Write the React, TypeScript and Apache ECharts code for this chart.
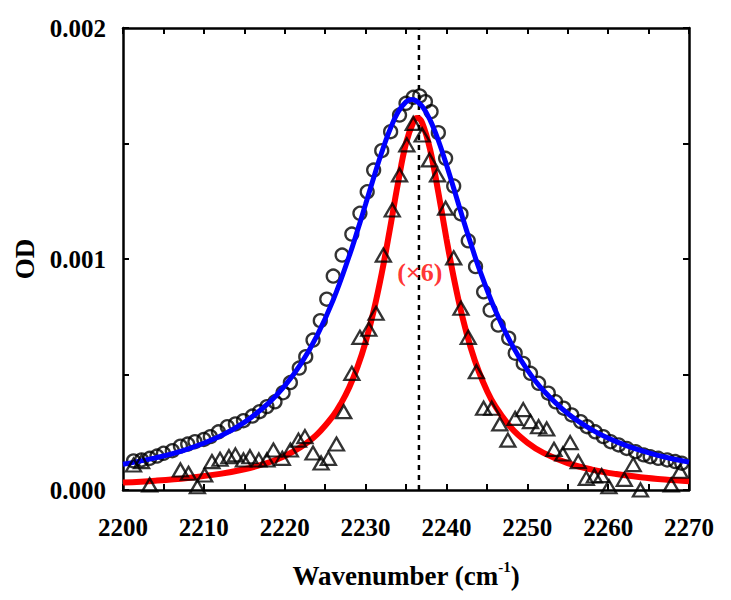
import React, { useEffect, useRef } from "react";
import * as echarts from "echarts";

// Measured data: circles (OD)
const circleX = [2201.3, 2202.3, 2203.3, 2204.2, 2205.0, 2206.1, 2207.1, 2208.0, 2208.9, 2210.0, 2210.8, 2211.8, 2212.9, 2213.9, 2214.9, 2216.0, 2216.9, 2217.8, 2218.8, 2219.8, 2220.7, 2221.8, 2222.6, 2223.5, 2224.4, 2225.2, 2226.0, 2227.1, 2228.3, 2229.3, 2230.2, 2231.0, 2232.0, 2233.1, 2234.2, 2235.0, 2235.9, 2236.7, 2237.4, 2238.1, 2239.0, 2239.9, 2240.9, 2241.8, 2242.7, 2243.6, 2244.6, 2245.4, 2246.4, 2247.7, 2248.5, 2249.5, 2250.4, 2251.4, 2252.6, 2253.5, 2254.5, 2255.5, 2256.6, 2257.4, 2258.4, 2259.4, 2260.3, 2261.3, 2262.3, 2263.4, 2264.4, 2265.2, 2266.2, 2267.3, 2268.3, 2269.1];
const circleY = [0.000126, 0.00013, 0.000137, 0.000147, 0.000159, 0.00017, 0.00019, 0.000199, 0.000209, 0.000219, 0.000231, 0.000252, 0.000274, 0.000286, 0.0003, 0.00032, 0.000339, 0.000361, 0.000382, 0.000421, 0.000465, 0.000528, 0.000577, 0.000649, 0.000733, 0.000826, 0.000926, 0.001017, 0.001108, 0.001198, 0.001291, 0.001385, 0.001469, 0.001551, 0.001623, 0.001674, 0.0017, 0.001706, 0.001681, 0.001638, 0.001547, 0.001436, 0.001316, 0.001195, 0.001079, 0.000967, 0.000858, 0.000779, 0.000714, 0.000657, 0.000592, 0.000548, 0.000505, 0.000462, 0.000419, 0.000382, 0.000354, 0.000325, 0.000296, 0.000274, 0.000252, 0.000231, 0.000209, 0.000195, 0.00018, 0.000166, 0.000152, 0.000144, 0.000137, 0.00013, 0.000123, 0.000116];

// Measured data: triangles (OD x6)
const triX = [2201.3, 2202.3, 2203.3, 2207.1, 2208.1, 2209.2, 2210.1, 2211.0, 2212.0, 2213.1, 2213.9, 2214.9, 2215.7, 2216.8, 2217.8, 2218.6, 2219.7, 2220.7, 2221.7, 2222.5, 2223.5, 2224.5, 2225.4, 2226.4, 2227.3, 2228.3, 2229.3, 2230.4, 2231.3, 2232.2, 2233.3, 2234.2, 2235.1, 2235.9, 2237.0, 2237.9, 2238.9, 2239.9, 2240.9, 2241.8, 2242.7, 2243.7, 2244.6, 2245.6, 2246.6, 2247.6, 2248.5, 2249.5, 2250.4, 2251.4, 2252.4, 2253.3, 2254.4, 2255.3, 2256.3, 2257.3, 2258.3, 2259.2, 2260.1, 2262.0, 2263.1, 2264.0, 2267.8, 2268.9];
const triY = [0.000108, 0.000123, 0.0000216, 0.0000866, 0.0000723, 0.0000143, 0.000065, 0.000123, 0.000133, 0.000144, 0.000152, 0.00013, 0.000144, 0.00013, 0.00013, 0.000173, 0.000137, 0.000173, 0.000216, 0.000231, 0.00016, 0.000117, 0.000137, 0.000199, 0.000339, 0.000505, 0.000661, 0.000696, 0.000765, 0.001017, 0.001212, 0.001364, 0.001494, 0.001587, 0.001537, 0.001429, 0.001364, 0.00122, 0.001005, 0.000787, 0.000661, 0.000512, 0.000354, 0.000354, 0.000286, 0.000216, 0.00031, 0.000348, 0.000296, 0.000274, 0.000264, 0.000176, 0.000156, 0.000205, 0.000123, 0.0000505, 0.0000606, 0.000062, 0.0000143, 0.0000463, 0.00011, 0.0, 0.0000216, 0.0000814];

// Fit curves
const blueX = [2200, 2204, 2208, 2212, 2215, 2218, 2220, 2222, 2224, 2226, 2228, 2229, 2230, 2231, 2232, 2233, 2234, 2235, 2235.75, 2236, 2237, 2238, 2239, 2240, 2241, 2242, 2243, 2244, 2246, 2248, 2250, 2252, 2255, 2258, 2261, 2264, 2267, 2270];
const blueY = [0.0001115, 0.0001389, 0.0001773, 0.0002331, 0.0002928, 0.0003763, 0.0004508, 0.000546, 0.000668, 0.000823, 0.001015, 0.001123, 0.001237, 0.001352, 0.001462, 0.001559, 0.001635, 0.00168, 0.00169, 0.001689, 0.001661, 0.0016, 0.001513, 0.001408, 0.001295, 0.001179, 0.001068, 0.000963, 0.000781, 0.000635, 0.00052, 0.0004305, 0.000331, 0.0002606, 0.0002096, 0.0001717, 0.000143, 0.0001207];
const redX = [2200, 2204, 2208, 2212, 2215, 2218, 2220, 2222, 2224, 2226, 2227, 2228, 2229, 2230, 2231, 2232, 2233, 2234, 2235, 2236, 2236.4, 2237, 2238, 2239, 2240, 2241, 2242, 2243, 2244, 2245, 2246, 2248, 2250, 2252, 2255, 2258, 2261, 2264, 2267, 2270];
const redY = [0.0000322, 0.0000404, 0.0000522, 0.0000699, 0.0000897, 0.0001191, 0.0001471, 0.0001857, 0.0002408, 0.000322, 0.0003772, 0.0004461, 0.0005322, 0.0006402, 0.0007748, 0.0009382, 0.001128, 0.001327, 0.001501, 0.001601, 0.00161, 0.001589, 0.001471, 0.001288, 0.001088, 0.000903, 0.0007454, 0.0006166, 0.0005134, 0.000431, 0.0003652, 0.0002694, 0.0002054, 0.000161, 0.0001167, 0.0000882, 0.0000689, 0.0000552, 0.0000452, 0.0000377];

const peakLineX = 2236.6;
const yRange = [0, 0.002];
const xRange = [2200, 2270];
const scaleLabel = "(×6)";
const scaleLabelPos = [2236.7, 0.00094];

const FONT = "'Liberation Serif', 'Times New Roman', serif";

export default function App() {
  const ref = useRef<HTMLDivElement>(null);
  useEffect(() => {
    if (!ref.current) return;
    const chart = echarts.init(ref.current, null, { renderer: "svg" });
    const pairs = (xs: number[], ys: number[]) => xs.map((x, i) => [x, ys[i]]);
    const axisLine = { show: true, onZero: false, lineStyle: { color: "#000", width: 2.5 } };
    const tick = { show: true, inside: true, length: 6, lineStyle: { color: "#000", width: 2 } };
    const minor = { show: true, splitNumber: 2, length: 6, lineStyle: { color: "#000", width: 2 } };
    const labelStyle = { fontFamily: FONT, fontWeight: "bold", fontSize: 25, color: "#000" };
    const nameStyle = { fontFamily: FONT, fontWeight: "bold", fontSize: 27, color: "#000" };
    chart.setOption({
      animation: false,
      backgroundColor: "#fff",
      grid: { left: 123, right: 42, top: 28, bottom: 110, containLabel: false },
      xAxis: [
        {
          type: "value", min: xRange[0], max: xRange[1], interval: 10,
          axisLine, axisTick: tick, minorTick: minor,
          splitLine: { show: false }, minorSplitLine: { show: false },
          axisLabel: { ...labelStyle, margin: 25, formatter: (v: number) => String(v) },
          name: "{a|Wavenumber (cm}{s|-1}{a|)}",
          nameLocation: "middle", nameGap: 69,
          nameTextStyle: {
            rich: {
              a: { ...nameStyle, lineHeight: 30, verticalAlign: "bottom" },
              s: { ...nameStyle, fontSize: 15, lineHeight: 30, verticalAlign: "top" },
            },
          },
        },
        {
          type: "value", position: "top", min: xRange[0], max: xRange[1], interval: 10,
          axisLine, axisTick: tick, minorTick: minor,
          splitLine: { show: false }, axisLabel: { show: false },
        },
      ],
      yAxis: [
        {
          type: "value", min: yRange[0], max: yRange[1], interval: 0.001,
          axisLine, axisTick: tick, minorTick: minor,
          splitLine: { show: false }, minorSplitLine: { show: false },
          axisLabel: { ...labelStyle, margin: 17, formatter: (v: number) => v.toFixed(3) },
          name: "OD", nameLocation: "middle", nameGap: 78,
          nameTextStyle: { ...nameStyle },
        },
        {
          type: "value", position: "right", min: yRange[0], max: yRange[1], interval: 0.001,
          axisLine, axisTick: tick, minorTick: minor,
          splitLine: { show: false }, axisLabel: { show: false },
        },
      ],
      series: [
        {
          type: "line", data: [[peakLineX, yRange[0]], [peakLineX, yRange[1]]],
          symbol: "none", silent: true, z: 1,
          lineStyle: { color: "#000", width: 2.5, type: [5, 5] },
        },
        {
          type: "scatter", data: pairs(circleX, circleY), symbol: "circle", symbolSize: 13, z: 2,
          itemStyle: { color: "rgba(0,0,0,0)", borderColor: "#000", borderWidth: 2.3 },
        },
        {
          type: "line", data: pairs(blueX, blueY), symbol: "none", smooth: 0.4, z: 3,
          lineStyle: { color: "#0000ff", width: 5 },
        },
        {
          type: "line", data: pairs(redX, redY), symbol: "none", smooth: 0.4, z: 4,
          lineStyle: { color: "#ff0000", width: 6 },
        },
        {
          type: "scatter", data: pairs(triX, triY), symbol: "triangle", symbolSize: [15, 13], z: 5,
          itemStyle: { color: "rgba(0,0,0,0)", borderColor: "#000", borderWidth: 2.3 },
        },
        {
          type: "scatter", data: [scaleLabelPos], symbolSize: 1, z: 6, silent: true,
          itemStyle: { color: "rgba(0,0,0,0)" },
          label: {
            show: true, position: "inside", formatter: scaleLabel,
            fontFamily: FONT, fontWeight: "bold", fontSize: 26, color: "#ff0000",
          },
        },
      ],
    });
    return () => chart.dispose();
  }, []);
  return <div ref={ref} style={{ position: "fixed", left: 0, top: 0, width: 731, height: 600 }} />;
}
